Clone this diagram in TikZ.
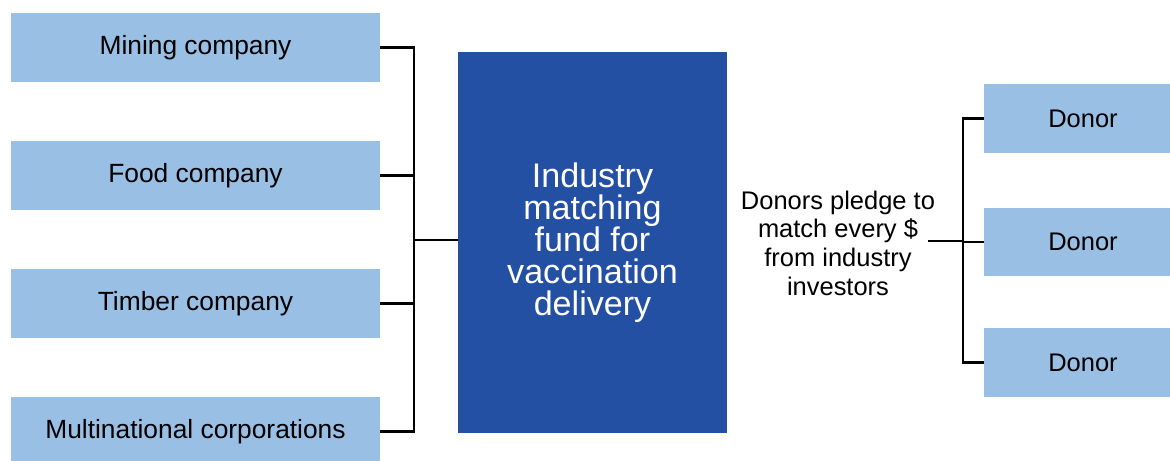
\documentclass[tikz,border=0pt]{standalone}
\usepackage{fontspec}
\setmainfont{Liberation Sans}
\usetikzlibrary{positioning}

\definecolor{boxblue}{HTML}{9ABFE4}
\definecolor{fundblue}{HTML}{2450A4}

\tikzset{
    firm/.style={fill=boxblue, minimum width=7.38cm, minimum height=1.38cm,
        font=\fontsize{15}{16}\selectfont},
    donor/.style={fill=boxblue, minimum width=3.96cm, minimum height=1.38cm,
        font=\fontsize{14.5}{16}\selectfont},
    tie/.style={line width=1.4pt}
}

\begin{document}
\begin{tikzpicture}[x=0.02cm, y=-0.02cm]

    \clip (0,0) rectangle (1170,460);

    % investors on the left
    \node [firm] (m1) at (195.5,47.5) {Mining company};
    \node [firm] (m2) at (195.5,175.5) {Food company};
    \node [firm] (m3) at (195.5,303.5) {Timber company};
    \node [firm] (m4) at (195.5,431.5) {Multinational corporations};

    % the fund itself
    \node [fill=fundblue, text=white, minimum width=5.38cm, minimum height=7.62cm,
        align=center, font=\fontsize{19.4}{18.2}\selectfont]
        (fund) at (592.5,242.5) {Industry\\matching\\fund for\\vaccination\\delivery};

    % donors on the right
    \node [donor] (d1) at (1083,118.5) {Donor};
    \node [donor] (d2) at (1083,242) {Donor};
    \node [donor] (d3) at (1083,362.5) {Donor};

    \node [align=center, font=\fontsize{14.5}{16.3}\selectfont]
        (pledge) at (838,243) {Donors pledge to\\match every \$\\from industry\\investors};

    \coordinate (lbus) at (414,240);
    \coordinate (rtie) at (928,241);
    \coordinate (rbus) at (963,241);

    % bracket joining the investors
    \foreach \m in {m1,m2,m3,m4}
        \draw [tie] (\m.east) -| (lbus);
    \draw [tie] (lbus) -- (fund.west |- lbus);

    % bracket joining the donors
    \foreach \d in {d1,d2,d3}
        \draw [tie] (\d.west) -| (rbus);
    \draw [tie] (rtie) -- (rbus);

\end{tikzpicture}
\end{document}
